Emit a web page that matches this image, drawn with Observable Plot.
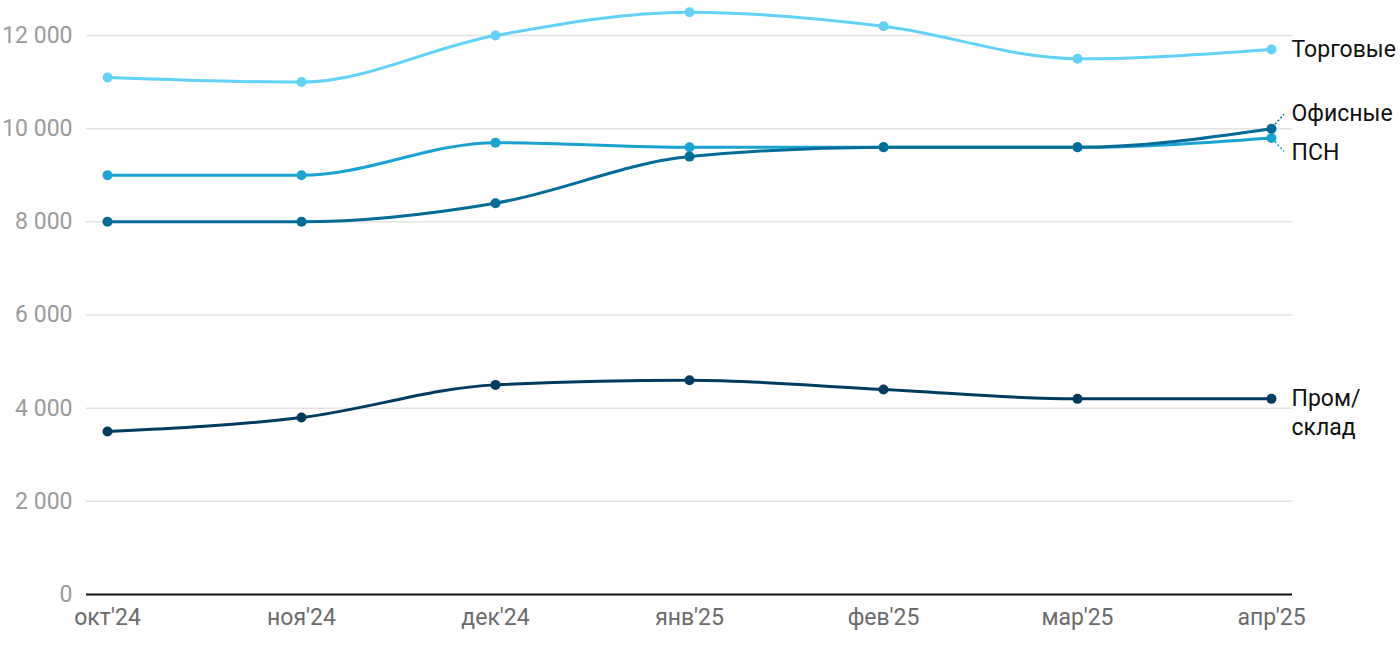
<!DOCTYPE html>
<html>
<head>
<meta charset="utf-8">
<script src="https://cdn.jsdelivr.net/npm/d3@7"></script>
<script src="https://cdn.jsdelivr.net/npm/@observablehq/plot@0.6"></script>
<style>
  html, body { margin: 0; padding: 0; background: #fff; }
  #chart svg { display: block; font-family: Roboto, "Noto Sans", sans-serif; }
</style>
</head>
<body>
<div id="chart"></div>
<script>
const months = ["окт'24", "ноя'24", "дек'24", "янв'25", "фев'25", "мар'25", "апр'25"];
const seriesNames = ["Торговые", "ПСН", "Офисные", "Пром/склад"];
const seriesLabels = ["Торговые", "ПСН", "Офисные", "Пром/\nсклад"];
const seriesColors = ["#62D2F9", "#1AA2D0", "#006C97", "#003C60"];
const torgovye = [11100, 11000, 12000, 12500, 12200, 11500, 11700];
const psn = [9000, 9000, 9700, 9600, 9600, 9600, 9800];
const ofisnye = [8000, 8000, 8400, 9400, 9600, 9600, 10000];
const prom = [3500, 3800, 4500, 4600, 4400, 4200, 4200];
const yTicks = [0, 2000, 4000, 6000, 8000, 10000, 12000];

const seriesValues = [torgovye, psn, ofisnye, prom];
const data = [];
seriesNames.forEach((s, i) => seriesValues[i].forEach((v, j) => data.push({series: s, month: months[j], value: v})));
const last = seriesNames.map((s, i) => ({series: s, label: seriesLabels[i], month: months[months.length - 1], value: seriesValues[i][months.length - 1]}));

const fmt = d => d3.format(",")(d).replace(/,/g, " ");
const colorOf = s => seriesColors[seriesNames.indexOf(s)];
const FS = 23;

// dotted connectors for crowded labels (Офисные up, ПСН down)
const connectors = (index, scales, values, dimensions) => {
  const g = d3.create("svg:g");
  [["Офисные", -1], ["ПСН", 1]].forEach(([s, dir]) => {
    const d = last.find(e => e.series === s);
    const x = scales.x(d.month), y = scales.y(d.value);
    g.append("line")
      .attr("x1", x + 4).attr("y1", y + dir * 4)
      .attr("x2", x + 13).attr("y2", y + dir * 14)
      .attr("stroke", colorOf(s)).attr("stroke-width", 1.5)
      .attr("stroke-dasharray", "2,2");
  });
  return g.node();
};

const plot = Plot.plot({
  width: 1400,
  height: 650,
  marginLeft: 86,
  marginRight: 108,
  marginTop: 35,
  marginBottom: 56,
  style: {fontFamily: "Roboto, 'Noto Sans', sans-serif", fontSize: FS + "px", background: "#fff"},
  x: {type: "point", domain: months, padding: 0, inset: 20, label: null},
  y: {domain: [0, 12000], label: null},
  color: {domain: seriesNames, range: seriesColors},
  marks: [
    Plot.ruleY(yTicks.filter(d => d > 0), {stroke: "#e3e3e3", strokeWidth: 1.5}),
    Plot.axisY(yTicks, {tickSize: 0, tickPadding: 14, tickFormat: fmt, fill: "#9b9b9b", fontSize: FS, label: null}),
    Plot.axisX({tickSize: 0, tickPadding: 14, fill: "#6b6b6b", fontSize: FS, label: null}),
    Plot.ruleY([0], {stroke: "#111", strokeWidth: 2}),
    Plot.line(data, {x: "month", y: "value", z: "series", stroke: "series", curve: "monotone-x", strokeWidth: 3}),
    Plot.dot(data, {x: "month", y: "value", fill: "series", r: 5}),
    connectors,
    Plot.text(last.filter(d => d.series === "Торговые"), {x: "month", y: "value", text: "label", textAnchor: "start", dx: 20, fill: "#111", fontSize: FS}),
    Plot.text(last.filter(d => d.series === "Офисные"), {x: "month", y: "value", text: "label", textAnchor: "start", dx: 20, dy: -15, fill: "#111", fontSize: FS}),
    Plot.text(last.filter(d => d.series === "ПСН"), {x: "month", y: "value", text: "label", textAnchor: "start", dx: 20, dy: 15, fill: "#111", fontSize: FS}),
    Plot.text(last.filter(d => d.series === "Пром/склад"), {x: "month", y: "value", text: "label", textAnchor: "start", dx: 20, lineAnchor: "top", dy: -13, lineHeight: 1.25, fill: "#111", fontSize: FS})
  ]
});
document.getElementById("chart").appendChild(plot);
</script>
</body>
</html>
